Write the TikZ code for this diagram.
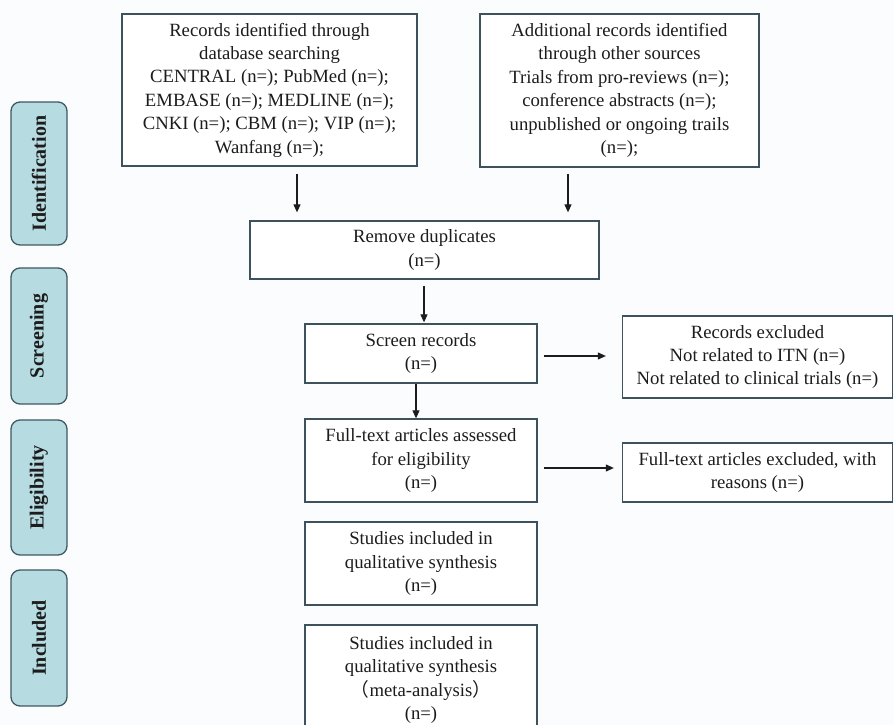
\documentclass[tikz,border=0pt]{standalone}
\usepackage{fontspec}
\setmainfont{Liberation Serif}
\newfontfamily\cjk{Noto Sans CJK SC}
\usetikzlibrary{arrows.meta,calc}
\definecolor{boxline}{HTML}{3D525C}
\definecolor{sideline}{HTML}{3E5960}
\definecolor{sidefill}{HTML}{B6DCE2}
\definecolor{txt}{HTML}{1C1C1C}
\definecolor{bg}{HTML}{FBFCFE}
\begin{document}
\begin{tikzpicture}[x=1pt,y=-1pt,
  box/.style={draw=boxline, line width=1.3pt, fill=white, align=center, inner sep=0pt,
    font=\fontsize{18.7}{23.4}\selectfont, text=txt},
  side/.style={draw=sideline, fill=sidefill, rounded corners=9pt, line width=1.3pt, rotate=90,
    font=\fontsize{20}{22}\selectfont\bfseries, text=txt, inner sep=0pt, minimum height=56pt},
  arr/.style={line width=1.1pt, draw=txt, -{Triangle[length=8pt,width=7pt]}}]
\clip (0,0) rectangle (894,725);
\fill[bg] (0,0) rectangle (894,725);

% side labels
\node[side, minimum width=143pt] (sid) at (39,173.5) {Identification};
\node[side, minimum width=136pt] (sscr) at (39,336) {Screening};
\node[side, minimum width=135pt] (selg) at (39,487.5) {Eligibility};
\node[side, minimum width=136pt] (sinc) at (39,638) {Included};

% boxes
\node[box, minimum width=295pt, minimum height=152pt] (db) at (269.5,90)
  {Records identified through\\database searching\\CENTRAL (n=); PubMed (n=);\\EMBASE (n=); MEDLINE (n=);\\CNKI (n=); CBM (n=); VIP (n=);\\Wanfang (n=);};
\node[box, minimum width=279pt, minimum height=153pt] (other) at (619.5,90.5)
  {Additional records identified\\through other sources\\Trials from pro-reviews (n=);\\conference abstracts (n=);\\unpublished or ongoing trails\\(n=);};
\node[box, minimum width=349pt, minimum height=58pt] (dup) at (424.5,250)
  {Remove duplicates\\(n=)};
\node[box, minimum width=232pt, minimum height=59pt] (scr) at (421,353.5)
  {Screen records\\(n=)};
\node[box, minimum width=232pt, minimum height=83pt] (full) at (421,460.5)
  {Full-text articles assessed\\for eligibility\\(n=)};
\node[box, minimum width=270pt, minimum height=82pt] (exc1) at (757.5,357)
  {Records excluded\\Not related to ITN (n=)\\Not related to clinical trials (n=)};
\node[box, minimum width=270pt, minimum height=59pt] (exc2) at (757.5,472.5)
  {Full-text articles excluded, with\\reasons (n=)};
\node[box, minimum width=232pt, minimum height=83pt] (qual) at (421,563.5)
  {Studies included in\\qualitative synthesis\\(n=)};
\node[box, minimum width=232pt, minimum height=110pt] (meta) at (421,680)
  {Studies included in\\qualitative synthesis\\{\cjk （}meta-analysis{\cjk ）}\\(n=)};

% connectors
\path (db.south) ++(27.5,0) coordinate (a1);
\path (other.south) ++(-51.5,0) coordinate (a2);
\draw[arr, shorten <=7pt, shorten >=8pt] (a1) -- (a1 |- dup.north);
\draw[arr, shorten <=6pt, shorten >=8pt] (a2) -- (a2 |- dup.north);
\path (dup.south) ++(-0.5,0) coordinate (a3);
\draw[arr, shorten <=6pt, shorten >=1pt] (a3) -- (a3 |- scr.north);
\path (scr.south) ++(-5,0) coordinate (a4);
\draw[arr] (a4) -- (a4 |- full.north);
\path (scr.east) ++(0,2.5) coordinate (a5);
\draw[arr, shorten <=6pt, shorten >=16pt] (a5) -- (a5 -| exc1.west);
\path (full.east) ++(0,7.5) coordinate (a6);
\draw[arr, shorten <=6pt, shorten >=8pt] (a6) -- (a6 -| exc2.west);
\end{tikzpicture}
\end{document}
